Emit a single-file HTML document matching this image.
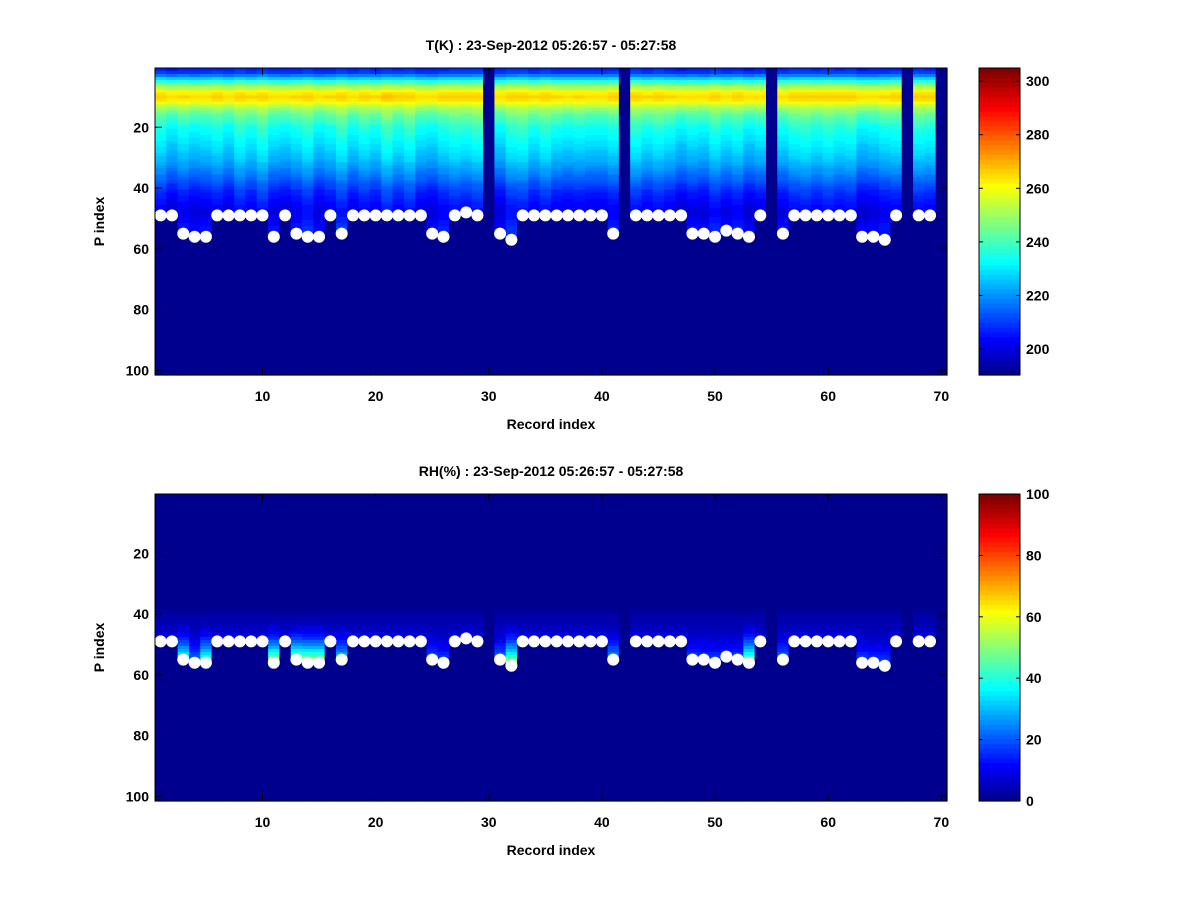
<!DOCTYPE html>
<html><head><meta charset="utf-8"><style>
body{margin:0;background:#fff;width:1200px;height:900px;overflow:hidden}
svg text{font-family:"Liberation Sans",sans-serif;font-weight:bold;font-size:14px;fill:#000}
</style></head><body>
<svg id="fig" width="1200" height="900" xmlns="http://www.w3.org/2000/svg"></svg>
<script>
// ---- data ----
const records = Array.from({length:70},(_,i)=>i+1);
const surfaceIdx = [49,49,55,56,56,49,49,49,49,49,56,49,55,56,56,49,55,49,49,49,49,49,49,49,55,56,49,48,49,null,
 55,57,49,49,49,49,49,49,49,49,55,null,49,49,49,49,49,55,55,56,54,55,56,49,null,55,49,49,49,49,49,49,56,56,57,49,null,49,49,null];
// temperature profile by P index 1..57
const tProfile = [208,210,218,228,238,246,253,259,264,266,264,259,254,250,247,244,242,240,238,236,
 235,234,233,232,231,230,229,228,227,226,225,223,222,220,219,217,216,214,212,211,
 209,208,207,206,205,204,203,203,203,204,205,206,207,207,207,207,207];
const tOffset = [0,-4,-1,-3,-2,0,-3,2,-1,3,-2,-3,-1,2,-3,-1,3,-2,1,-1,4,0,3,-2,-3,0,2,1,3,0,
 -3,2,3,-1,2,-1,-2,-1,-2,-2,0,0,2,-1,1,-1,-4,-2,-3,1,-2,0,-4,-2,0,-2,1,2,0,2,0,1,-4,-3,-1,0,0,1,0,0];
const rhMax = [12,12,45,25,50,12,12,12,12,12,60,12,55,60,60,12,35,12,12,12,12,12,12,12,22,20,12,12,12,0,
 25,60,12,12,12,12,12,12,12,12,30,0,12,12,12,12,12,20,18,20,18,20,55,12,0,25,12,12,12,12,12,12,20,18,20,12,0,12,12,0];
const tTicks=[200,220,240,260,280,300];
const rhTicks=[0,20,40,60,80,100];
const xTicks=[10,20,30,40,50,60,70];
const yTicks=[20,40,60,80,100];

function jet(v){ // v 0..1, 64-level MATLAB jet
  const k=Math.max(0,Math.min(63,Math.floor(v*64)));
  const w=(k+1)/64;
  function c(x){return Math.max(0,Math.min(1,x));}
  const r=c(Math.min(4*w-1.5,-4*w+4.5)), g=c(Math.min(4*w-0.5,-4*w+3.5)), b=c(Math.min(4*w+0.5,-4*w+2.5));
  return `rgb(${Math.round(r*255)},${Math.round(g*255)},${Math.round(b*255)})`;
}
const NS="http://www.w3.org/2000/svg";
const svg=document.getElementById('fig');
function el(tag,attrs,parent){const e=document.createElementNS(NS,tag);for(const k in attrs)e.setAttribute(k,attrs[k]);(parent||svg).appendChild(e);return e;}

function panel(top,title,vmin,vmax,valueFn,cbTicks,nm){
  const L=155,R=947,T=top,B=top+307;
  const xs=r=>L+(r-0.5)*(R-L)/70;
  const ys=p=>T+(p-0.5)*(B-T)/101;
  const g=el('g',{});
  
  
  for(let c=0;c<70;c++){
    for(let p=1;p<=101;p++){
      const v=valueFn(c,p);
      const t=(v-vmin)/(vmax-vmin);
      el('rect',{x:xs(c+1-0.5),y:ys(p-0.5),width:xs(c+1.5)-xs(c+0.5)+0.6,height:ys(p+0.5)-ys(p-0.5)+0.6,fill:jet(Math.max(0,Math.min(1,t)))},g);
    }
  }
  const dg=el('g',{});
  
  
  surfaceIdx.forEach((s,i)=>{ if(s==null)return;
    const d=el('circle',{cx:xs(records[i]),cy:ys(s),r:6,fill:'#fff'},dg);
    
    
  });
  const ax=el('rect',{x:L,y:T,width:R-L,height:B-T,fill:'none',stroke:'#000','stroke-width':1});
  
  
  xTicks.forEach(t=>{const x=xs(t);
    el('line',{x1:x,x2:x,y1:B,y2:B-7,stroke:'#000'});el('line',{x1:x,x2:x,y1:T,y2:T+7,stroke:'#000'});
    const tx=el('text',{x:x,y:B+26,'text-anchor':'middle'});tx.textContent=t;
    });
  yTicks.forEach(t=>{const y=ys(t);
    el('line',{x1:L,x2:L+7,y1:y,y2:y,stroke:'#000'});el('line',{x1:R,x2:R-7,y1:y,y2:y,stroke:'#000'});
    const tx=el('text',{x:L-6,y:y+5,'text-anchor':'end'});tx.textContent=t;
    });
  const tt=el('text',{x:(L+R)/2,y:T-18,'text-anchor':'middle'});tt.textContent=title;
  
  const xl=el('text',{x:(L+R)/2,y:B+54,'text-anchor':'middle','font-size':'16'});xl.textContent='Record index';
  
  const yl=el('text',{x:0,y:0,'text-anchor':'middle',transform:`translate(104,${(T+B)/2}) rotate(-90)`,'font-size':'16'});yl.textContent='P index';
  
  const cL=979,cR=1020;
  const cg=el('g',{});
  
  
  const n=64;
  for(let i=0;i<n;i++){
    el('rect',{x:cL,y:B-(i+1)*(B-T)/n,width:cR-cL,height:(B-T)/n+0.6,fill:jet((i+0.5)/n)},cg);
  }
  el('rect',{x:cL,y:T,width:cR-cL,height:B-T,fill:'none',stroke:'#000'},cg);
  cbTicks.forEach(t=>{const y=B-(t-vmin)/(vmax-vmin)*(B-T);
    el('line',{x1:cL,x2:cL+4,y1:y,y2:y,stroke:'#000'},cg);el('line',{x1:cR,x2:cR-4,y1:y,y2:y,stroke:'#000'},cg);
    const tx=el('text',{x:cR+6,y:y+5,'font-size':'15'},cg);tx.textContent=t;
    });
}
const TMIN=190.3,TMAX=304.9;
panel(68,'T(K) : 23-Sep-2012 05:26:57 - 05:27:58',TMIN,TMAX,(c,p)=>{
  const s=surfaceIdx[c]; if(s==null||p>s) return TMIN;
  const sc=p<15?0.4:1;
  return tProfile[Math.min(p,57)-1]+tOffset[c]*sc;
},tTicks,'temperature');
panel(494,'RH(%) : 23-Sep-2012 05:26:57 - 05:27:58',0,100,(c,p)=>{
  const s=surfaceIdx[c]; if(s==null||p>s) return 0;
  if(p<39) return 0.5;
  const f=(p-39)/(s-39);
  return 3+ (rhMax[c]-3)*Math.pow(f,2.2);
},rhTicks,'humidity');
</script>
</body></html>
